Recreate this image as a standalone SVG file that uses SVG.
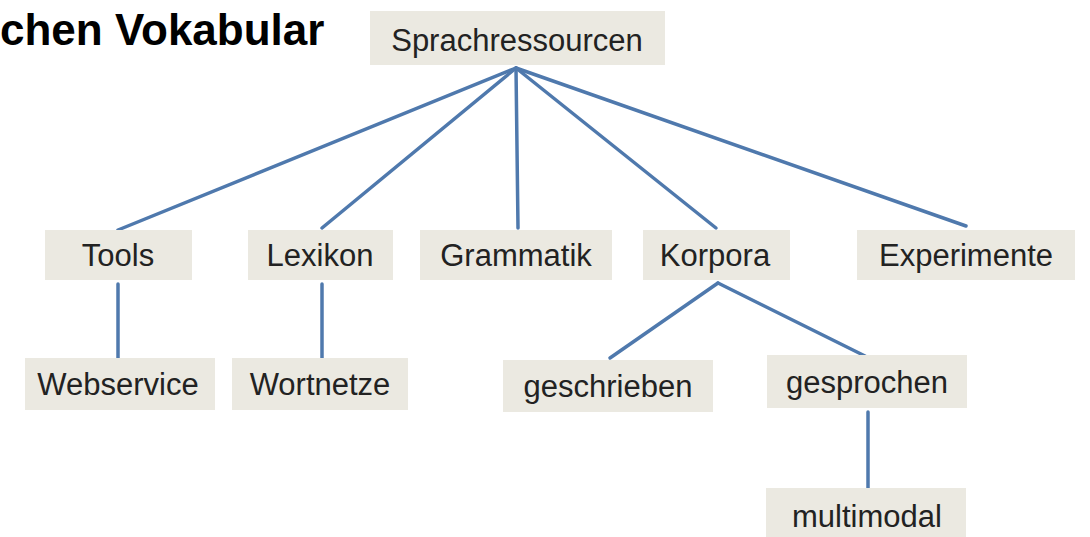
<svg xmlns="http://www.w3.org/2000/svg" width="1090" height="537" viewBox="0 0 1090 537">
<style>
.box{fill:#ebe9e1}
.lbl{font-family:"Liberation Sans",Arial,sans-serif;font-size:31px;fill:#222;text-anchor:middle}
.title{font-family:"Liberation Sans",Arial,sans-serif;font-size:44px;font-weight:bold;fill:#000}
.con{stroke:#4f79ad;stroke-width:3.5;fill:none;stroke-linecap:round}
</style>
<rect width="1090" height="537" fill="#ffffff"/>
<text class="title" x="0" y="45">chen Vokabular</text>
<g id="connectors">
<line class="con" x1="516" y1="68" x2="118" y2="230"/>
<line class="con" x1="516" y1="68" x2="322" y2="228"/>
<line class="con" x1="516" y1="68" x2="518" y2="228"/>
<line class="con" x1="516" y1="68" x2="716" y2="228"/>
<line class="con" x1="516" y1="68" x2="966" y2="226"/>
<line class="con" x1="118" y1="284" x2="118" y2="358"/>
<line class="con" x1="322" y1="284" x2="322" y2="358"/>
<line class="con" x1="718" y1="283" x2="610" y2="358"/>
<line class="con" x1="718" y1="283" x2="865" y2="356"/>
<line class="con" x1="868" y1="412" x2="868" y2="488"/>
</g>
<g id="n-root"><rect class="box" x="370" y="11" width="295" height="54"/><text class="lbl" x="517" y="51">Sprachressourcen</text></g>
<g id="n-tools"><rect class="box" x="45" y="230" width="147" height="50"/><text class="lbl" x="118" y="266">Tools</text></g>
<g id="n-lexikon"><rect class="box" x="248" y="230" width="145" height="50"/><text class="lbl" x="320" y="266">Lexikon</text></g>
<g id="n-grammatik"><rect class="box" x="420" y="230" width="192" height="50"/><text class="lbl" x="516" y="266">Grammatik</text></g>
<g id="n-korpora"><rect class="box" x="643" y="230" width="147" height="50"/><text class="lbl" x="715" y="266">Korpora</text></g>
<g id="n-experimente"><rect class="box" x="857" y="230" width="218" height="50"/><text class="lbl" x="966" y="266">Experimente</text></g>
<g id="n-webservice"><rect class="box" x="25" y="358" width="190" height="52"/><text class="lbl" x="118" y="395">Webservice</text></g>
<g id="n-wortnetze"><rect class="box" x="232" y="358" width="176" height="52"/><text class="lbl" x="320" y="395">Wortnetze</text></g>
<g id="n-geschrieben"><rect class="box" x="503" y="360" width="210" height="52"/><text class="lbl" x="608" y="397">geschrieben</text></g>
<g id="n-gesprochen"><rect class="box" x="767" y="355" width="200" height="53"/><text class="lbl" x="867" y="393">gesprochen</text></g>
<g id="n-multimodal"><rect class="box" x="766" y="488" width="200" height="52"/><text class="lbl" x="867" y="527">multimodal</text></g>
</svg>
